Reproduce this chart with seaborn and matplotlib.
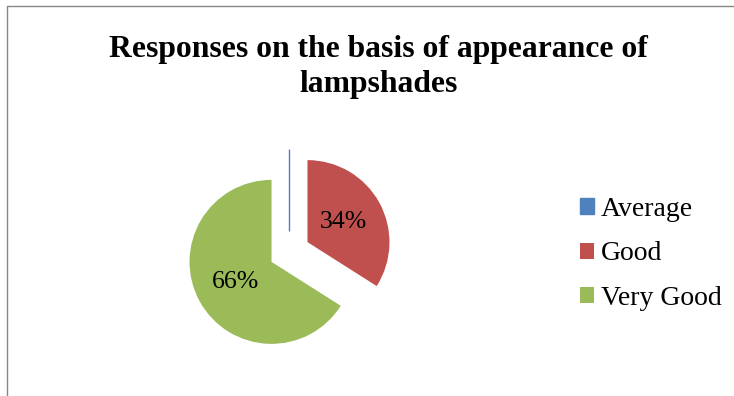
import matplotlib
matplotlib.use("Agg")
import matplotlib.pyplot as plt
from matplotlib.lines import Line2D
import seaborn as sns

# Survey responses on lampshade appearance
categories = ["Average", "Good", "Very Good"]
shares = [0, 34, 66]
colors = ["#4F81BD", "#C0504D", "#9BBB59"]
title = "Responses on the basis of appearance of\nlampshades"

sns.set_theme(style="white")
plt.rcParams["font.family"] = ["Liberation Serif", "DejaVu Serif"]
plt.rcParams["text.color"] = "black"

W, H = 734, 396
fig = plt.figure(figsize=(W / 100, H / 100), dpi=100)
fig.patch.set_facecolor("white")

# pie centred at (289.5, 252) px, radius 82 px
r_px = 82
cx, cy = 289.5, 252
side = 3 * r_px
ax = fig.add_axes([(cx - side / 2) / W, (H - cy - side / 2) / H, side / W, side / H])

palette = sns.color_palette(colors)


def pct_label(p):
    return "" if p < 0.5 else f"{p:.0f}%"


wedges, texts, autotexts = ax.pie(
    shares,
    colors=palette,
    explode=[0.25] * len(shares),
    startangle=90,
    counterclock=False,
    autopct=pct_label,
    pctdistance=0.5,
    wedgeprops=dict(linewidth=0),
    textprops=dict(fontsize=18.5, color="black"),
)
# zero-share slice shows up as a single radial line
for w, v, c in zip(wedges, shares, palette):
    if v == 0:
        w.set_edgecolor(c)
        w.set_linewidth(1.0)

ax.set_xlim(-1.5, 1.5)
ax.set_ylim(-1.5, 1.5)
ax.axis("off")

fig.text(378.5 / W, 1 - 67 / H, title, ha="center", va="center",
         fontsize=22.8, fontweight="bold", linespacing=1.3, color="black")

leg = fig.legend(
    wedges, categories,
    loc="center left", bbox_to_anchor=(569 / W, 1 - 254 / H),
    frameon=False, fontsize=20,
    handlelength=0.5, handleheight=0.5, handletextpad=0.25,
    labelspacing=0.7, borderaxespad=0,
)
for t in leg.get_texts():
    t.set_color("black")

# partial chart frame along the top and left edges
frame_color = "#878787"
fig.add_artist(Line2D([7 / W, 1.0], [1 - 5.5 / H] * 2, transform=fig.transFigure,
                      color=frame_color, linewidth=1.0))
fig.add_artist(Line2D([7 / W] * 2, [0.0, 1 - 5.5 / H], transform=fig.transFigure,
                      color=frame_color, linewidth=1.0))

fig.savefig("out.png", dpi=100)
